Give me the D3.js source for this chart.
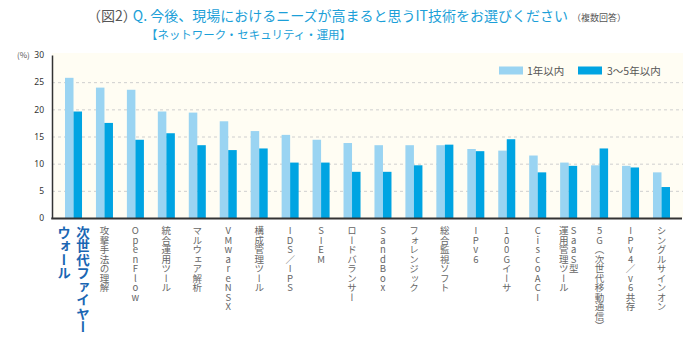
<!DOCTYPE html>
<html lang="ja">
<head>
<meta charset="utf-8">
<script src="https://cdn.jsdelivr.net/npm/d3@7/dist/d3.min.js"></script>
<style>
  html, body { margin: 0; padding: 0; background: #ffffff; }
  svg { display: block; font-family: "Noto Sans CJK JP", "Noto Sans", sans-serif; }
  .vlabel { writing-mode: vertical-rl; text-orientation: upright; }
</style>
</head>
<body>
<svg id="chart" width="700" height="340"></svg>
<script>
// Categories (x axis); a "\n" splits a label into two vertical columns
const categories = [
  "次世代ファイヤー\nウォール", "攻撃手法の理解", "OpenFlow", "統合運用ツール", "マルウェア解析",
  "VMwareNSX", "構成管理ツール", "IDS／IPS", "SIEM", "ロードバランサー",
  "SandBox", "フォレンジック", "総合監視ソフト", "IPv6", "100Gイーサ",
  "CiscoACI", "SaaS型\n運用管理ツール", "5G（次世代移動通信）", "IPv4／v6共存", "シングルサインオン"
];
const seriesNames = ["1年以内", "3〜5年以内"];
const within1Year = [25.8, 24.0, 23.6, 19.6, 19.4, 17.8, 16.0, 15.3, 14.4, 13.8,
                     13.4, 13.4, 13.4, 12.7, 12.4, 11.5, 10.2, 9.7, 9.6, 8.4];
const within3to5 = [19.6, 17.5, 14.4, 15.6, 13.4, 12.5, 12.8, 10.2, 10.2, 8.5,
                    8.5, 9.7, 13.5, 12.3, 14.5, 8.4, 9.6, 12.8, 9.3, 5.7];
const yTicks = [0, 5, 10, 15, 20, 25, 30];

const colors = ["#9ad4f2", "#00a4e2"];
const svg = d3.select("#chart");

const plot = { left: 52, right: 683, top: 53, bottom: 218 };

const x = d3.scaleBand().domain(categories)
  .range([plot.left, plot.right]).paddingInner(0.45).paddingOuter(0.42);
const xs = d3.scaleBand().domain(seriesNames).range([0, x.bandwidth()]);
const y = d3.scaleLinear().domain([0, 30]).range([218, 55]);

// Title
const title = svg.append("text").attr("x", 87).attr("y", 21).attr("font-size", 14);
title.append("tspan").attr("fill", "#555").text("（図2）");
title.append("tspan").attr("fill", "#1c9fd8").attr("dx", -4)
  .text("Q. 今後、現場におけるニーズが高まると思うIT技術をお選びください");
title.append("tspan").attr("fill", "#555").attr("font-size", 9).attr("dx", 4).text("（複数回答）");

svg.append("text").attr("x", 146).attr("y", 39).attr("font-size", 11.5)
  .attr("textLength", 205).attr("lengthAdjust", "spacingAndGlyphs")
  .attr("fill", "#1c9fd8").text("【ネットワーク・セキュリティ・運用】");

// Plot background
svg.append("rect").attr("x", plot.left).attr("y", plot.top)
  .attr("width", plot.right - plot.left).attr("height", plot.bottom - plot.top)
  .attr("fill", "#fffdf3");

// Dashed gridlines
svg.append("g").selectAll("line").data(yTicks.filter(d => d > 0 && d < 30)).join("line")
  .attr("x1", plot.left).attr("x2", plot.right)
  .attr("y1", d => y(d) + 0.5).attr("y2", d => y(d) + 0.5)
  .attr("stroke", "#cfcfcf").attr("stroke-dasharray", "3,3");

// Bars
const groups = svg.append("g").selectAll("g").data(categories).join("g")
  .attr("transform", d => `translate(${x(d)},0)`);
groups.selectAll("rect")
  .data((d, i) => [within1Year[i], within3to5[i]].map((v, j) => ({ key: seriesNames[j], v, j })))
  .join("rect")
  .attr("x", d => xs(d.key)).attr("width", xs.bandwidth())
  .attr("y", d => y(d.v)).attr("height", d => y(0) - y(d.v))
  .attr("fill", d => colors[d.j]);

// Y axis
const yAxis = d3.axisLeft(y).tickValues(yTicks).tickSize(0).tickPadding(8);
const gy = svg.append("g").attr("transform", `translate(${plot.left},0)`).call(yAxis);
gy.select(".domain").attr("stroke", "#333").attr("stroke-width", 1.5);
gy.selectAll("text").attr("font-size", 8.5).attr("fill", "#333")
  .attr("font-family", "'Noto Sans', sans-serif");
svg.append("text").attr("x", 17).attr("y", 58).attr("font-size", 8)
  .attr("fill", "#555").text("(%)");

// X axis line
svg.append("line").attr("x1", plot.left - 0.75).attr("x2", plot.right - 1)
  .attr("y1", y(0) + 0.5).attr("y2", y(0) + 0.5)
  .attr("stroke", "#333").attr("stroke-width", 2);

// Vertical category labels
categories.forEach((c, i) => {
  const cx = x(c) + x.bandwidth() / 2;
  const cols = c.split("\n");
  const first = i === 0;
  const fs = first ? 13.5 : 9.5;
  const gap = first ? 19 : 10;
  cols.forEach((t, k) => {
    const off = (cols.length - 1) / 2 * gap - k * gap;
    svg.append("text").attr("class", "vlabel")
      .attr("x", cx + off).attr("y", 226)
      .attr("font-size", fs)
      .attr("font-weight", first ? 700 : 400)
      .attr("fill", first ? "#1a66b3" : "#666")
      .text(t);
  });
});

// Legend
const lg = svg.append("g");
[[499, 527], [578, 607]].forEach((p, j) => {
  lg.append("rect").attr("x", p[0]).attr("y", 66.5).attr("width", 24).attr("height", 8)
    .attr("fill", colors[j]);
  lg.append("text").attr("x", p[1]).attr("y", 75).attr("font-size", 10.5)
    .attr("fill", "#555").text(seriesNames[j]);
});
</script>
</body>
</html>
